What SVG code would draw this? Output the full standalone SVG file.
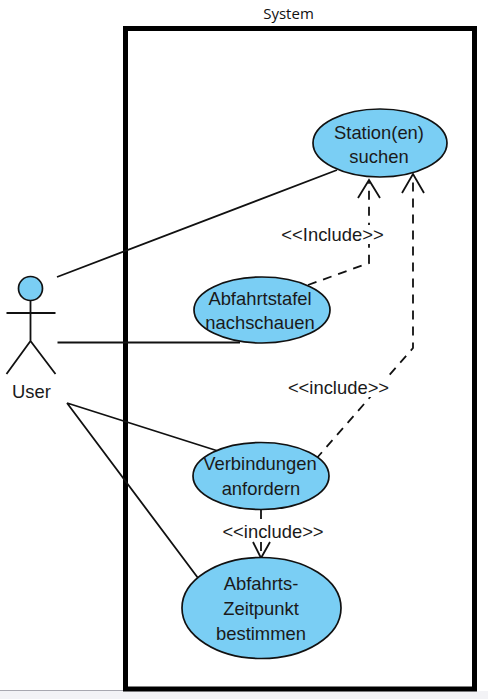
<svg xmlns="http://www.w3.org/2000/svg" width="488" height="699" viewBox="0 0 488 699">
<style>
text{font-family:"Liberation Sans",Arial,sans-serif;font-size:18.400px;fill:#1a1a1a;text-anchor:middle}
.uc{fill:#7acef4;stroke:#111;stroke-width:1.700}
.ln{fill:none;stroke:#111;stroke-width:1.800}
.da{fill:none;stroke:#111;stroke-width:1.800;stroke-dasharray:9 7}
.lb{fill:#fff}
</style>
<rect width="488" height="699" fill="#fff"/>
<rect x="0" y="691" width="488" height="8" fill="#f3f3f6"/>
<line x1="0" y1="690.500" x2="124" y2="690.500" stroke="#a8a8b0" stroke-width="1"/>
<g id="system">
<rect x="125.500" y="28.500" width="349" height="660.500" fill="none" stroke="#000" stroke-width="5"/>
<text x="288.500" y="19" style="font-family:'Open Sans','Noto Sans',sans-serif;font-size:15px;fill:#111">System</text>
</g>
<g id="connectors">
<path class="ln" d="M57 277L337 170M57.500 342.500H240M67 403L218 451M67 403L198 578"/>
<path class="da" d="M308 285L369 263V180"/>
<path class="da" d="M316 459L413 348V175"/>
<path class="da" d="M261 510V557"/>
<path class="ln" d="M358 198L369 180L380 198M402 193L413 174L424 193M253 542L261 558L270 542"/>
<rect class="lb" x="281" y="225" width="103" height="19"/>
<rect class="lb" x="287" y="378" width="103" height="19"/>
<rect class="lb" x="222" y="523" width="102" height="18"/>
<text x="332.500" y="240.500">&lt;&lt;Include&gt;&gt;</text>
<text x="338.500" y="393.500">&lt;&lt;include&gt;&gt;</text>
<text x="273" y="537.500">&lt;&lt;include&gt;&gt;</text>
</g>
<g id="actor-user">
<circle cx="30.500" cy="288.500" r="12" class="uc"/>
<path class="ln" d="M30.500 300.500V341M6.500 313H55.500M6.500 374L30.500 341L55.500 374"/>
<text x="31.500" y="398">User</text>
</g>
<g id="uc-station">
<ellipse cx="380" cy="143" rx="67" ry="34" class="uc"/>
<text x="379" y="138.500">Station(en)</text>
<text x="379" y="163">suchen</text>
</g>
<g id="uc-abfahrtstafel">
<ellipse cx="262" cy="310" rx="68" ry="33" class="uc"/>
<text x="260" y="304.500">Abfahrtstafel</text>
<text x="260" y="329">nachschauen</text>
</g>
<g id="uc-verbindungen">
<ellipse cx="261" cy="476" rx="68" ry="33.500" class="uc"/>
<text x="260" y="470">Verbindungen</text>
<text x="261" y="495">anfordern</text>
</g>
<g id="uc-abfahrtszeitpunkt">
<ellipse cx="261.500" cy="608" rx="79.500" ry="50.500" class="uc"/>
<text x="261" y="590">Abfahrts-</text>
<text x="261" y="615">Zeitpunkt</text>
<text x="261" y="640">bestimmen</text>
</g>
</svg>
